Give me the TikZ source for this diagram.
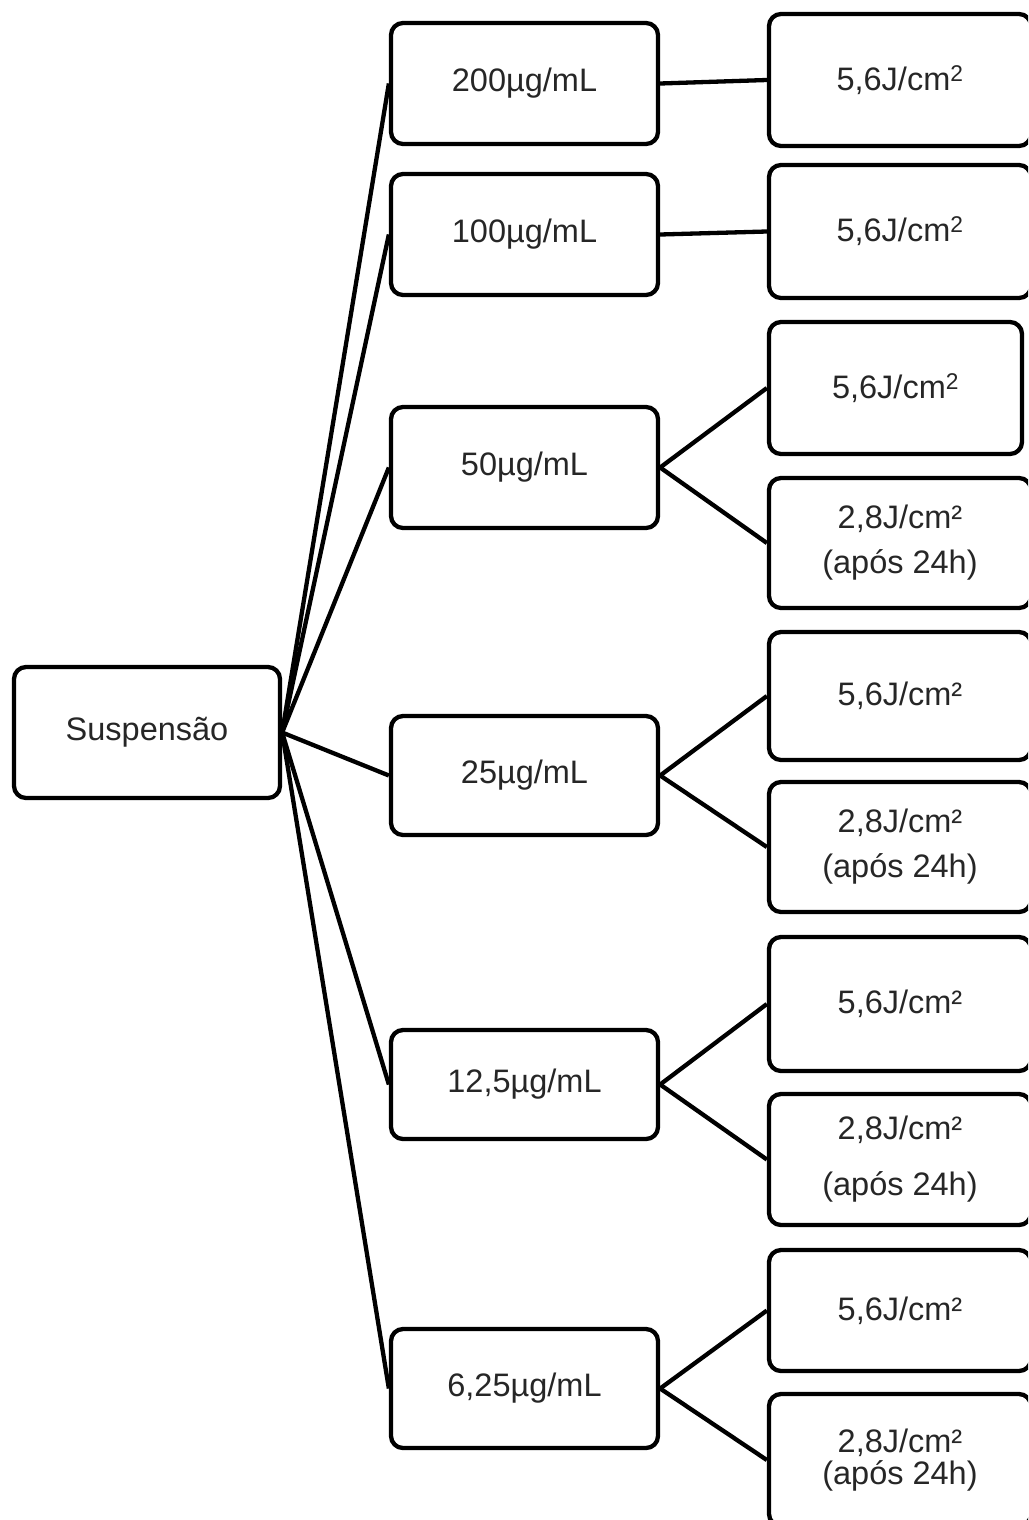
\documentclass[tikz,border=0pt]{standalone}
\usepackage{fontspec}
\setmainfont{Liberation Sans}
\begin{document}
\begin{tikzpicture}[x=1pt,y=-1pt,
  box/.style={draw=black, text=black!85, line width=4.3pt, rounded corners=12pt, inner sep=0pt, align=center,
    font=\fontsize{32.5}{45}\selectfont},
  midbox/.style={box, minimum width=267pt},
  rbox/.style={box, minimum width=262pt},
  link/.style={line width=4.3pt}]
\clip (0,0) rectangle (1028,1520);
\node[box, minimum width=266pt, minimum height=131pt] (sus) at (147,732.5) {Suspensão};
% middle column
\node[midbox, minimum height=121pt] (m1) at (524.5,83.5) {200µg/mL};
\node[midbox, minimum height=121pt] (m2) at (524.5,234.5) {100µg/mL};
\node[midbox, minimum height=121pt] (m3) at (524.5,467.5) {50µg/mL};
\node[midbox, minimum height=119pt] (m4) at (524.5,775.5) {25µg/mL};
\node[midbox, minimum height=109pt] (m5) at (524.5,1084.5) {12,5µg/mL};
\node[midbox, minimum height=119pt] (m6) at (524.5,1388.5) {6,25µg/mL};
% right column
\node[rbox, minimum height=132pt] (r1) at (900,80) {5,6J/cm\textsuperscript{2}};
\node[rbox, minimum height=133pt] (r2) at (900,231.5) {5,6J/cm\textsuperscript{2}};
\node[box, minimum width=253pt, minimum height=132pt] (r3) at (895.5,388) {5,6J/cm\textsuperscript{2}};
\node[rbox, minimum height=130pt] (r4) at (900,543) {2,8J/cm²\\(após 24h)};
\node[rbox, minimum height=128pt] (r5) at (900,696) {5,6J/cm²};
\node[rbox, minimum height=130pt] (r6) at (900,847) {2,8J/cm²\\(após 24h)};
\node[rbox, minimum height=134pt] (r7) at (900,1004) {5,6J/cm²};
\node[rbox, minimum height=131pt, font=\fontsize{32.5}{56}\selectfont] (r8) at (900,1159.5) {2,8J/cm²\\(após 24h)};
\node[rbox, minimum height=121pt] (r9) at (900,1310.5) {5,6J/cm²};
\node[rbox, minimum height=132pt, font=\fontsize{32.5}{32}\selectfont] (r10) at (900,1460) {2,8J/cm²\\(após 24h)};
% connectors
\foreach \m in {m1,m2,m3,m4,m5,m6}
  \draw[link] (sus.east) -- (\m.west);
\draw[link] (m1.east) -- (r1.west);
\draw[link] (m2.east) -- (r2.west);
\draw[link] (m3.east) -- (r3.west);
\draw[link] (m3.east) -- (r4.west);
\draw[link] (m4.east) -- (r5.west);
\draw[link] (m4.east) -- (r6.west);
\draw[link] (m5.east) -- (r7.west);
\draw[link] (m5.east) -- (r8.west);
\draw[link] (m6.east) -- (r9.west);
\draw[link] (m6.east) -- (r10.west);
\end{tikzpicture}
\end{document}
